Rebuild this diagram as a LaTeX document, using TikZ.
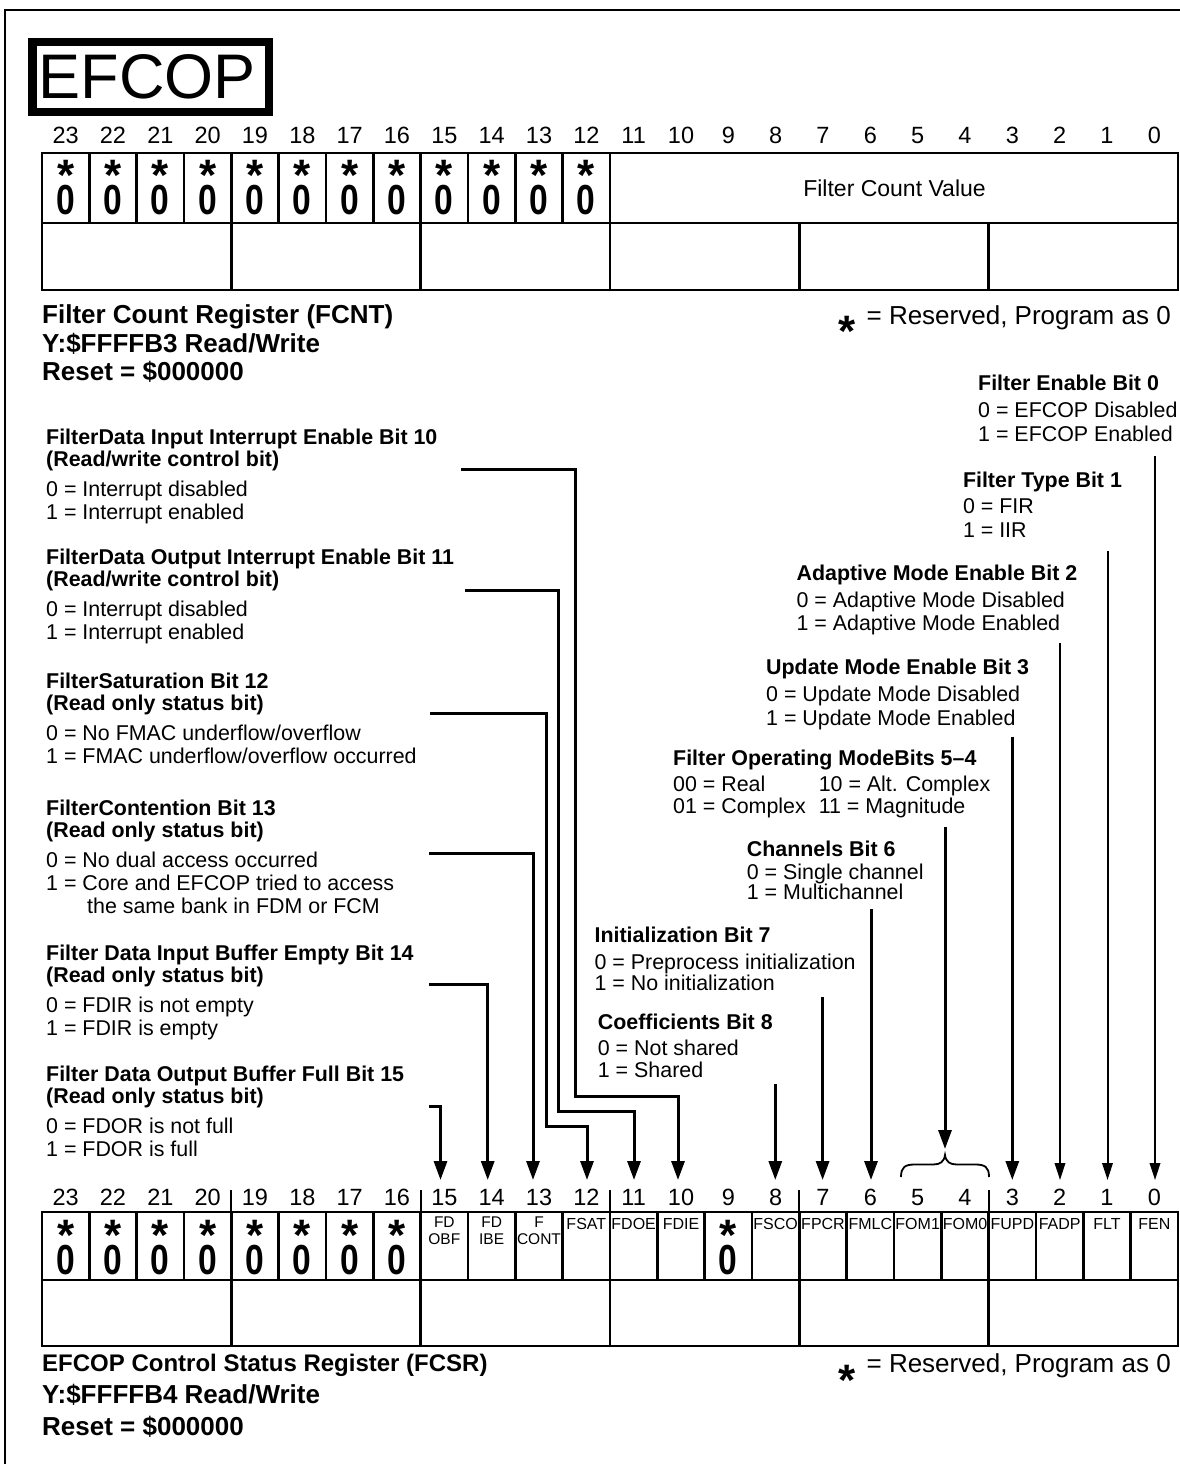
\documentclass[tikz,border=0pt]{standalone}
\usepackage{fontspec}
\setmainfont{Liberation Sans}
\usetikzlibrary{arrows.meta}
\newcommand\topstrut[1]{\rule{0pt}{#1}}
\newcommand\starglyph{\raisebox{-18pt}[14pt][0pt]{*}}
\newcommand\reszero{\fontsize{44}{44}\selectfont\starglyph\\\fontsize{42}{42}\selectfont\scalebox{0.8}[1]{0}}
\tikzset{
  regline/.style={line width=2.6pt},
  bitnum/.style={font=\fontsize{23.5}{26}\selectfont, anchor=base, inner sep=0},
  starc/.style={font=\fontsize{44}{44}\bfseries\selectfont, anchor=base, inner sep=0},
  rescell/.style={font=\fontsize{20}{42}\bfseries\selectfont, align=center, anchor=base, inner sep=0},
  fld/.style={font=\fontsize{16}{17.5}\selectfont, align=center, anchor=base, inner sep=0},
  fldtwo/.style={font=\fontsize{15.5}{17.5}\selectfont, align=center, anchor=north, inner sep=0},
  desc/.style={font=\fontsize{21.4}{21.5}\selectfont, align=left, anchor=north west, inner sep=0},
  regname/.style={align=left, anchor=north west, inner sep=0},
  legend/.style={font=\fontsize{26}{30}\selectfont, anchor=base east, inner sep=0},
  bigarr/.style={line width=3pt, -{Triangle[width=13pt,length=19pt]}},
  smallarr/.style={line width=2pt, -{Triangle[width=10.5pt,length=17pt]}},
}
\begin{document}
\begin{tikzpicture}[x=1pt,y=-1pt]
\useasboundingbox (0,0) rectangle (1180,1464);
% frame
\draw[line width=2pt] (5,1464) -- (5,10) -- (1180,10);
% title
\draw[line width=8.5pt] (32.25,42.25) rectangle (268.75,111.75);
\node[font=\fontsize{63}{63}\selectfont, anchor=base west, inner sep=0] (title) at (38.5,98) {EFCOP};

% ===== top register (FCNT) =====
\foreach \b in {0,...,23} \node[bitnum] (tn\b) at ({42+(23.5-\b)*47.333},143.5) {\b};
\draw[regline] (42,153) rectangle (1178,290);
\draw[regline] (42,223) -- (1178,223);
\foreach \k in {1,...,12} \draw[regline] ({42+\k*47.333},153) -- ({42+\k*47.333},223);
\foreach \k in {4,8,...,20} \draw[regline] ({42+\k*47.333},223) -- ({42+\k*47.333},290);
\foreach \b in {12,...,23}
  \node[rescell] (tz\b) at ({42+(23.5-\b)*47.333},214) {\reszero};
\node[font=\fontsize{23}{26}\selectfont, inner sep=0] (fcv) at (894.5,188) {Filter Count Value};

\node[regname, font=\fontsize{26}{28.5}\bfseries\selectfont] (fcnt) at (42,297.5) {\topstrut{26pt}Filter Count Register (FCNT)\\Y:\$FFFFB3 Read/Write\\Reset = \$000000};
\node[starc] (legstar1) at (847,328) {\starglyph};
\node[legend] (leg1) at (1171,324) {= Reserved, Program as 0};

% ===== descriptions, left =====
\node[desc] (d10) at (46,422.7) {\topstrut{22pt}\textbf{FilterData Input Interrupt Enable Bit 10}\\\textbf{(Read/write control bit)}\\[8.5pt]0 = Interrupt disabled\\[2pt]1 = Interrupt enabled};
\node[desc] (d11) at (46,542.7) {\topstrut{22pt}\textbf{FilterData Output Interrupt Enable Bit 11}\\\textbf{(Read/write control bit)}\\[8.5pt]0 = Interrupt disabled\\[2pt]1 = Interrupt enabled};
\node[desc] (d12) at (46,666.7) {\topstrut{22pt}\textbf{FilterSaturation Bit 12}\\\textbf{(Read only status bit)}\\[8.5pt]0 = No FMAC underflow/overflow\\[2pt]1 = FMAC underflow/overflow occurred};
\node[desc] (d13) at (46,793.7) {\topstrut{22pt}\textbf{FilterContention Bit 13}\\\textbf{(Read only status bit)}\\[8.5pt]0 = No dual access occurred\\[2pt]1 = Core and EFCOP tried to access\\[1pt]\hspace*{41pt}the same bank in FDM or FCM};
\node[desc] (d14) at (46,938.7) {\topstrut{22pt}\textbf{Filter Data Input Buffer Empty Bit 14}\\\textbf{(Read only status bit)}\\[8.5pt]0 = FDIR is not empty\\[2pt]1 = FDIR is empty};
\node[desc] (d15) at (46,1059.7) {\topstrut{22pt}\textbf{Filter Data Output Buffer Full Bit 15}\\\textbf{(Read only status bit)}\\[8.5pt]0 = FDOR is not full\\[2pt]1 = FDOR is full};

% ===== descriptions, right =====
\node[desc] (d0) at (978,368.7) {\topstrut{22pt}\textbf{Filter Enable Bit 0}\\[5pt]0 = EFCOP Disabled\\[2.5pt]1 = EFCOP Enabled};
\node[desc] (d1) at (962.8,465.7) {\topstrut{22pt}\textbf{Filter Type Bit 1}\\[4.5pt]0 = FIR\\[2.5pt]1 = IIR};
\node[desc] (d2) at (796.4,558.4) {\topstrut{22pt}\textbf{Adaptive Mode Enable Bit 2}\\[5pt]0 = Adaptive Mode Disabled\\[2pt]1 = Adaptive Mode Enabled};
\node[desc] (d3) at (766,652.4) {\topstrut{22pt}\textbf{Update Mode Enable Bit 3}\\[5pt]0 = Update Mode Disabled\\[2.5pt]1 = Update Mode Enabled};
\node[desc] (d54) at (673,743) {\topstrut{22pt}\textbf{Filter Operating ModeBits 5–4}\\[4.5pt]\makebox[145.6pt][l]{00 = Real}10 = Alt. Complex\\[0.5pt]\makebox[145.6pt][l]{01 = Complex}11 = Magnitude};
\node[desc] (d6) at (746.7,834.7) {\topstrut{22pt}\textbf{Channels Bit 6}\\[1pt]0 = Single channel\\[-1.5pt]1 = Multichannel};
\node[desc] (d7) at (594.4,920.7) {\topstrut{22pt}\textbf{Initialization Bit 7}\\[5pt]0 = Preprocess initialization\\[0pt]1 = No initialization};
\node[desc] (d8) at (597.7,1007.4) {\topstrut{22pt}\textbf{Coefficients Bit 8}\\[4pt]0 = Not shared\\[0.5pt]1 = Shared};

% ===== connector end points =====
\coordinate (s10) at (461,469);   \coordinate (j10) at (575.8,1096.7); \coordinate (t10) at (678,1180);
\coordinate (s11) at (464.6,590); \coordinate (j11) at (558,1111.7);   \coordinate (t11) at (634,1180);
\coordinate (s12) at (430,713.3); \coordinate (j12) at (546.5,1126);   \coordinate (t12) at (587,1180);
\coordinate (s13) at (429,853.3); \coordinate (t13) at (533,1180);
\coordinate (s14) at (429,984);   \coordinate (t14) at (487.7,1180);
\coordinate (s15) at (429,1106.7);\coordinate (t15) at (440.5,1180);
\coordinate (s0) at (1155,456);   \coordinate (t0) at (1155,1180);
\coordinate (s1) at (1107.5,551); \coordinate (t1) at (1107.5,1180);
\coordinate (s2) at (1060,642.7); \coordinate (t2) at (1060,1180);
\coordinate (s3) at (1012.3,736.7); \coordinate (t3) at (1012.3,1180);
\coordinate (s54) at (945,827.3); \coordinate (t54) at (945,1149);
\coordinate (s6) at (871,909.3);  \coordinate (t6) at (871,1180);
\coordinate (s7) at (822.6,997.3);\coordinate (t7) at (822.6,1180);
\coordinate (s8) at (775.3,1084); \coordinate (t8) at (775.3,1180);

\draw[bigarr] (s10) -| (j10) -| (t10);
\draw[bigarr] (s11) -| (j11) -| (t11);
\draw[bigarr] (s12) -| (j12) -| (t12);
\draw[bigarr] (s13) -| (t13);
\draw[bigarr] (s14) -| (t14);
\draw[bigarr] (s15) -| (t15);
\draw[smallarr] (s0) -- (t0);
\draw[smallarr] (s1) -- (t1);
\draw[smallarr] (s2) -- (t2);
\draw[bigarr] (s3) -- (t3);
\draw[bigarr] (s54) -- (t54);
\draw[bigarr] (s6) -- (t6);
\draw[bigarr] (s7) -- (t7);
\draw[bigarr] (s8) -- (t8);
% brace over bits 5-4
\draw[line width=1.8pt] (901,1177) .. controls (901,1167) and (905,1164.5) .. (915,1164.5) -- (933,1164.5) .. controls (940,1164.5) and (944,1162) .. (945,1155) .. controls (946,1162) and (950,1164.5) .. (957,1164.5) -- (975,1164.5) .. controls (985,1164.5) and (989,1167) .. (989,1177);

% ===== bottom register (FCSR) =====
\foreach \b in {0,...,23} \node[bitnum] (bn\b) at ({42+(23.5-\b)*47.333},1205.5) {\b};
\draw[regline] (42,1212) rectangle (1178,1346);
\draw[regline] (42,1280) -- (1178,1280);
\foreach \k in {1,...,23} \draw[regline] ({42+\k*47.333},1212) -- ({42+\k*47.333},1280);
\foreach \k in {4,8,...,20} {
  \draw[regline] ({42+\k*47.333},1280) -- ({42+\k*47.333},1346);
  \draw[line width=2pt] ({42+\k*47.333},1190) -- ({42+\k*47.333},1212);
}
\foreach \b in {9,16,17,18,19,20,21,22,23}
  \node[rescell] (bz\b) at ({42+(23.5-\b)*47.333},1274) {\reszero};
\node[fldtwo] (f15) at ({42+8.5*47.333},1212.5) {\topstrut{14.5pt}FD\\OBF};
\node[fldtwo] (f14) at ({42+9.5*47.333},1212.5) {\topstrut{14.5pt}FD\\IBE};
\node[fldtwo] (f13) at ({42+10.5*47.333},1212.5) {\topstrut{14.5pt}F\\CONT};
\node[fld] (f12) at ({42+11.5*47.333},1229.7) {FSAT};
\node[fld] (f11) at ({42+12.5*47.333},1229.7) {FDOE};
\node[fld] (f10) at ({42+13.5*47.333},1229.7) {FDIE};
\node[fld] (f8) at ({42+15.5*47.333},1229.7) {FSCO};
\node[fld] (f7) at ({42+16.5*47.333},1229.7) {FPCR};
\node[fld] (f6) at ({42+17.5*47.333},1229.7) {FMLC};
\node[fld] (f5) at ({42+18.5*47.333},1229.7) {FOM1};
\node[fld] (f4) at ({42+19.5*47.333},1229.7) {FOM0};
\node[fld] (f3) at ({42+20.5*47.333},1229.7) {FUPD};
\node[fld] (f2) at ({42+21.5*47.333},1229.7) {FADP};
\node[fld] (f1) at ({42+22.5*47.333},1229.7) {FLT};
\node[fld] (f0) at ({42+23.5*47.333},1229.7) {FEN};

\node[regname, font=\fontsize{26}{32}\bfseries\selectfont] (fcsr) at (42,1345) {\fontsize{24}{32}\selectfont\topstrut{26pt}EFCOP Control Status Register (FCSR)\\Y:\$FFFFB4 Read/Write\\Reset = \$000000};
\node[starc] (legstar2) at (847,1377) {\starglyph};
\node[legend] (leg2) at (1171,1372) {= Reserved, Program as 0};
\end{tikzpicture}
\end{document}
